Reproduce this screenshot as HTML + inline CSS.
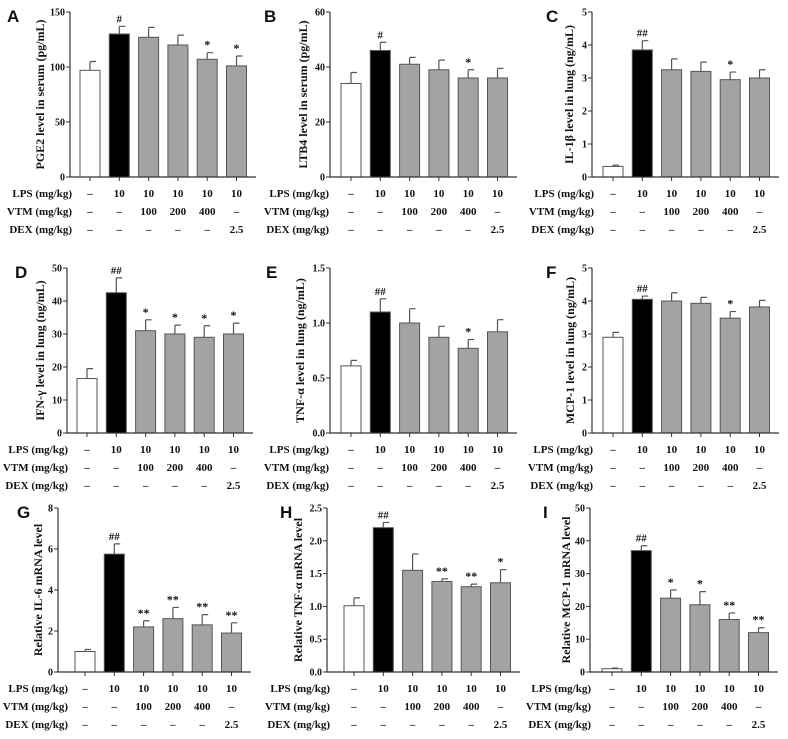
<!DOCTYPE html>
<html><head><meta charset="utf-8"><style>
body{margin:0;background:#fff;}
svg text{font-family:"Liberation Serif",serif;font-weight:bold;fill:#111;}
</style></head><body>
<svg id="fig" width="788" height="734" xmlns="http://www.w3.org/2000/svg"></svg>
<script>
const lpsRow = ["–","10","10","10","10","10"];
const vtmRow = ["–","–","100","200","400","–"];
const dexRow = ["–","–","–","–","–","2.5"];
const valsA = [97,130,127,120,107,101];
const errA = [8,7,9,9,6,9];
const sigA = ["","#","","","*","*"];
const valsB = [34,46,41,39,36,36];
const errB = [4,3,2.5,3.5,3,3.5];
const sigB = ["","#","","","*",""];
const valsC = [0.32,3.85,3.25,3.2,2.95,3.0];
const errC = [0.04,0.28,0.33,0.28,0.23,0.25];
const sigC = ["","##","","","*",""];
const valsD = [16.5,42.5,31,30,29,30];
const errD = [3,4.5,3.3,2.7,3.5,3.3];
const sigD = ["","##","*","*","*","*"];
const valsE = [0.61,1.1,1.0,0.87,0.77,0.92];
const errE = [0.05,0.12,0.13,0.1,0.08,0.11];
const sigE = ["","##","","","*",""];
const valsF = [2.9,4.05,4.0,3.93,3.48,3.82];
const errF = [0.15,0.1,0.25,0.18,0.2,0.2];
const sigF = ["","##","","","*",""];
const valsG = [1.0,5.75,2.2,2.6,2.3,1.9];
const errG = [0.1,0.5,0.3,0.55,0.5,0.5];
const sigG = ["","##","**","**","**","**"];
const valsH = [1.01,2.2,1.55,1.38,1.3,1.36];
const errH = [0.12,0.08,0.25,0.04,0.04,0.2];
const sigH = ["","##","","**","**","*"];
const valsI = [1,37,22.5,20.5,16,12];
const errI = [0.2,1.5,2.5,4,2,1.5];
const sigI = ["","##","*","*","**","**"];
const ticksA=[0,50,100,150], ticksB=[0,20,40,60], ticksC=[0,1,2,3,4,5];
const ticksD=[0,10,20,30,40,50], ticksE=[0,0.5,1.0,1.5], ticksF=[0,1,2,3,4,5];
const ticksG=[0,2,4,6,8], ticksH=[0,0.5,1.0,1.5,2.0,2.5], ticksI=[0,10,20,30,40,50];
const NS="http://www.w3.org/2000/svg";
const svg=document.getElementById('fig');
function mk(tag,attrs,parent){const e=document.createElementNS(NS,tag);for(const k in attrs)e.setAttribute(k,attrs[k]);(parent||svg).appendChild(e);return e;}
const panels=[
 {L:"A",ax:70,off:20,lx:7,tx:40,rx:72,top:12,zero:177,vals:valsA,err:errA,sig:sigA,ticks:ticksA,dec:0,title:"PGE2 level in serum (pg/mL)"},
 {L:"B",ax:330,off:21,lx:264,tx:303,rx:329,top:12,zero:177,vals:valsB,err:errB,sig:sigB,ticks:ticksB,dec:0,title:"LTB4 level in serum (pg/mL)"},
 {L:"C",ax:592,off:21,lx:546,tx:569,rx:594,top:12,zero:177,vals:valsC,err:errC,sig:sigC,ticks:ticksC,dec:0,title:"IL-1β level in lung (ng/mL)"},
 {L:"D",ax:67,off:20,lx:15,tx:40,rx:68,top:268,zero:433,vals:valsD,err:errD,sig:sigD,ticks:ticksD,dec:0,title:"IFN-γ level in lung (ng/mL)"},
 {L:"E",ax:330,off:21,lx:266,tx:300,rx:329,top:268,zero:433,vals:valsE,err:errE,sig:sigE,ticks:ticksE,dec:1,title:"TNF-α level in lung (ng/mL)"},
 {L:"F",ax:592,off:21,lx:546,tx:570,rx:593,top:268,zero:433,vals:valsF,err:errF,sig:sigF,ticks:ticksF,dec:0,title:"MCP-1 level in lung (ng/mL)"},
 {L:"G",ax:58,off:27,lx:17,tx:38,rx:68,top:508,zero:672,vals:valsG,err:errG,sig:sigG,ticks:ticksG,dec:0,title:"Relative IL-6 mRNA level"},
 {L:"H",ax:327,off:27,lx:280,tx:298,rx:330,top:508,zero:672,vals:valsH,err:errH,sig:sigH,ticks:ticksH,dec:1,title:"Relative TNF-α mRNA level"},
 {L:"I",ax:590,off:22,lx:543,tx:566,rx:591,top:508,zero:672,vals:valsI,err:errI,sig:sigI,ticks:ticksI,dec:0,title:"Relative MCP-1 mRNA level"}];
const fills=["#fff","#000","#a3a3a5","#a3a3a5","#a3a3a5","#a3a3a5"];
panels.forEach(p=>{
 const g=mk('g',{});
 
 
 const max=p.ticks[p.ticks.length-1];
 const y=v=>p.zero-(v/max)*(p.zero-p.top);
 const x=i=>p.ax+p.off+i*29.3;
 const lt=mk('text',{x:p.lx,y:p.top+10,'font-size':17},g);
 lt.style.fontFamily='"Liberation Sans",sans-serif';
 lt.textContent=p.L;
 
 
 const yt=mk('text',{transform:`translate(${p.tx},${(p.top+p.zero)/2}) rotate(-90)`,'text-anchor':'middle','dominant-baseline':'central','font-size':12},g);
 yt.textContent=p.title;
 
 
 p.vals.forEach((v,i)=>{
  const bw=20,bx=x(i)-bw/2;
  const r=mk('rect',{x:bx,y:y(v),width:bw,height:p.zero-y(v),fill:fills[i],stroke:'#555','stroke-width':1},g);
  
  
  const et=y(v+p.err[i]);
  const el=mk('path',{d:`M${x(i)},${y(v)}V${et}M${x(i)},${et}H${x(i)+6}`,stroke:'#555','stroke-width':1.2,fill:'none'},g);
  
  
  if(p.sig[i]){const s=mk('text',{x:x(i),y:et-4,'text-anchor':'middle','font-size':p.sig[i].startsWith('#')?11:12},g);s.textContent=p.sig[i];
   
   }
  mk('line',{x1:x(i),x2:x(i),y1:p.zero,y2:p.zero+4,stroke:'#333'},g);
 });
 p.ticks.forEach(t=>{
  mk('line',{x1:p.ax-4,x2:p.ax,y1:y(t),y2:y(t),stroke:'#333'},g);
  const tt=mk('text',{x:p.ax-5,y:y(t)+3.5,'text-anchor':'end','font-size':10},g);
  tt.textContent=t.toFixed(p.dec);
  
  
 });
 mk('path',{d:`M${p.ax},${p.top}V${p.zero}H${p.ax+p.off+166}`,stroke:'#333','stroke-width':1.2,fill:'none'},g);
 const rows=[["LPS (mg/kg)",lpsRow],["VTM (mg/kg)",vtmRow],["DEX (mg/kg)",dexRow]];
 rows.forEach((r,k)=>{
  const ry=p.zero+20+k*18;
  const rl=mk('text',{x:p.rx,y:ry,'text-anchor':'end','font-size':11},g);
  rl.textContent=r[0];
  
  
  r[1].forEach((c,i)=>{const ct=mk('text',{x:x(i),y:ry,'text-anchor':'middle','font-size':11},g);ct.textContent=c;
   
   });
 });
});
</script>
</body></html>
